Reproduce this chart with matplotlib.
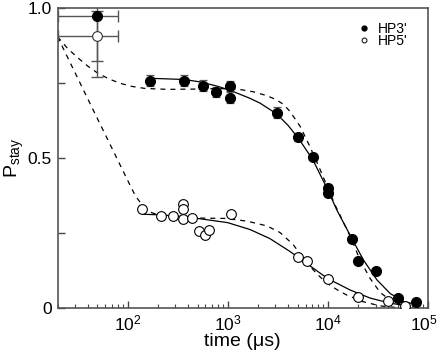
import numpy as np
import matplotlib
matplotlib.use("Agg")
import matplotlib.pyplot as plt
import matplotlib.transforms as mtrans
from matplotlib.ticker import FixedLocator, LogLocator, NullFormatter, LogFormatterSciNotation

plt.rcParams['font.family'] = ['Liberation Sans', 'DejaVu Sans']
plt.rcParams['mathtext.fontset'] = 'custom'
plt.rcParams['mathtext.rm'] = 'Liberation Sans'
plt.rcParams['mathtext.it'] = 'Liberation Sans:italic'
plt.rcParams['mathtext.default'] = 'regular'

# HP3' (filled) data
hp3_t = [167, 366, 562, 764, 1054, 1054, 3090, 5080, 7080, 10000, 10000,
         17500, 20200, 30400, 49700, 75900]
hp3_p = [0.759, 0.759, 0.742, 0.721, 0.741, 0.702, 0.652, 0.570, 0.505, 0.402, 0.383,
         0.230, 0.158, 0.125, 0.034, 0.020]
hp3_err = [0.018, 0.018, 0.018, 0.018, 0.018, 0.018, 0.018, 0.012, 0.01, 0.01, 0.01,
           0.0, 0.0, 0.0, 0.0, 0.0]

# HP5' (open) data
hp5_t = [141, 214, 286, 360, 360, 360, 437, 516, 593, 655, 1070,
         5080, 6160, 10000, 20200, 40300, 59300]
hp5_p = [0.330, 0.308, 0.308, 0.347, 0.331, 0.297, 0.300, 0.257, 0.244, 0.260, 0.314,
         0.169, 0.157, 0.096, 0.038, 0.023, 0.007]

# first (early-time) points with large error bars
early_t = [50, 50]
early_p = [0.975, 0.908]
early_xerr = [30, 30]
early_yerr = [0.205, 0.083]

# solid fit curves
fit3_t = [167, 366, 528, 800, 1054, 1671, 2104, 3090, 4000, 5080, 7080, 10000, 12300,
          17500, 22700, 30900, 42000, 57000, 84000]
fit3_p = [0.767, 0.763, 0.755, 0.740, 0.727, 0.700, 0.684, 0.648, 0.610, 0.567, 0.495,
          0.394, 0.327, 0.230, 0.160, 0.094, 0.048, 0.022, 0.008]
fit5_t = [141, 214, 360, 528, 1000, 1670, 2630, 4130, 5080, 7000, 10000, 16700, 26500,
          42000, 66000]
fit5_p = [0.313, 0.311, 0.305, 0.298, 0.285, 0.262, 0.232, 0.190, 0.169, 0.135, 0.098,
          0.060, 0.033, 0.016, 0.006]

# dashed fit curves
dash3_t = [20, 25, 32, 40, 50, 65, 85, 110, 150, 250, 500, 800, 1300, 1800, 2400, 3000,
           3600, 4200, 5300, 6600, 8400, 11800, 16700, 21000, 26500, 33300, 42000, 52800]
dash3_p = [0.906, 0.868, 0.835, 0.808, 0.785, 0.765, 0.750, 0.740, 0.733, 0.730, 0.731,
           0.733, 0.730, 0.722, 0.710, 0.697, 0.680, 0.656, 0.606, 0.540, 0.461, 0.344,
           0.240, 0.160, 0.098, 0.052, 0.026, 0.010]
dash5_t = [20, 30, 45, 70, 100, 120, 140, 155, 175, 210, 300, 566, 940, 1560, 2470, 3330,
           4500, 6170, 8000, 9770, 12500, 15500, 22500, 33300, 47100]
dash5_p = [0.906, 0.785, 0.664, 0.533, 0.427, 0.374, 0.344, 0.330, 0.318, 0.310, 0.304,
           0.300, 0.299, 0.290, 0.274, 0.252, 0.212, 0.150, 0.110, 0.083, 0.060, 0.043,
           0.021, 0.007, 0.002]

fig = plt.figure(figsize=(4.4, 3.57), dpi=100)
ax = fig.add_axes([0.1307, 0.1373, 0.8420, 0.8389])

ax.plot(dash3_t, dash3_p, color='black', lw=0.9, ls=(0, (4, 4)), zorder=2)
ax.plot(dash5_t, dash5_p, color='black', lw=0.9, ls=(0, (4, 4)), zorder=2)
ax.plot(fit3_t, fit3_p, color='black', lw=0.9, zorder=2)
ax.plot(fit5_t, fit5_p, color='black', lw=0.9, zorder=2)

ax.errorbar(hp3_t, hp3_p, yerr=hp3_err, fmt='none', ecolor='#555555',
            elinewidth=0.9, capsize=3, capthick=0.9, zorder=3)
ax.errorbar(early_t, early_p, xerr=early_xerr, yerr=early_yerr, fmt='none',
            ecolor='#555555', elinewidth=1.0, capsize=4, capthick=1.0, zorder=3)

ax.plot(hp3_t, hp3_p, 'o', ms=7, mfc='black', mec='black', zorder=4)
ax.plot(hp5_t, hp5_p, 'o', ms=7, mfc='white', mec='black', mew=0.8, zorder=4)
ax.plot(early_t[:1], early_p[:1], 'o', ms=7, mfc='black', mec='black', zorder=4)
ax.plot(early_t[1:], early_p[1:], 'o', ms=7, mfc='white', mec='#333333', mew=0.8, zorder=4)

# legend proxies
ax.plot([], [], 'o', ms=3.5, mfc='black', mec='black', label="HP3'")
ax.plot([], [], 'o', ms=3.5, mfc='white', mec='black', mew=0.7, label="HP5'")
ax.legend(loc='upper right', frameon=False, fontsize=10, handlelength=0.6,
          handletextpad=0.7, labelspacing=-0.1, borderaxespad=0.0,
          bbox_to_anchor=(0.96, 0.975))

ax.set_xscale('log')
ax.set_xlim(20, 1e5)
ax.set_ylim(0, 1.0)

ax.yaxis.set_major_locator(FixedLocator([0, 0.25, 0.5, 0.75, 1.0]))
ax.set_yticklabels(['0', '', '0.5', '', '1.0'])
ax.xaxis.set_major_locator(FixedLocator([1e2, 1e3, 1e4, 1e5]))
ax.xaxis.set_major_formatter(LogFormatterSciNotation())
ax.xaxis.set_minor_locator(LogLocator(base=10, subs=np.arange(2, 10)))
ax.xaxis.set_minor_formatter(NullFormatter())

ax.tick_params(which='major', direction='in', length=5, width=1.0, color='#444444',
               labelsize=12.5, pad=4, top=False, right=False)
ax.tick_params(which='minor', direction='in', length=3, width=0.8, color='#444444',
               top=False, right=False)
for s in ax.spines.values():
    s.set_color('#555555')
    s.set_linewidth(1.2)

# nudge the 10^5 label so it stays inside the figure
last = ax.xaxis.get_major_ticks()[-1].label1
last.set_transform(last.get_transform() + mtrans.ScaledTranslation(-4 / 100, 0, fig.dpi_scale_trans))

ax.set_xlabel('time (\u03bcs)', fontsize=14, labelpad=0)
ax.set_ylabel('P$_{stay}$', fontsize=14, labelpad=1)

fig.savefig('out.png', dpi=100)
